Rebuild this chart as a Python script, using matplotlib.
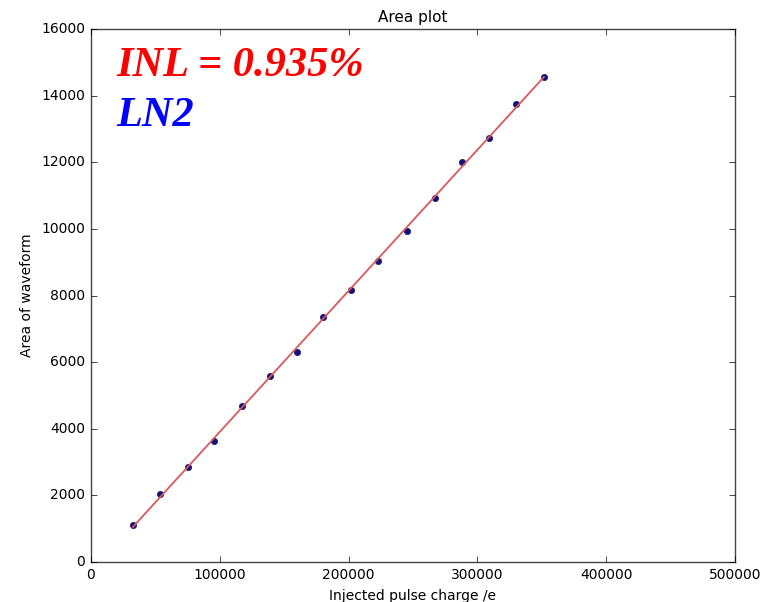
import numpy as np
import matplotlib
matplotlib.use("Agg")
import matplotlib.pyplot as plt

plt.style.use("classic")

# Injected charge (electrons) and integrated waveform area
charge = [32600, 53600, 75300, 95500, 117200, 139000, 159900, 180100,
          201900, 222800, 245300, 267100, 288000, 309000, 330000, 351700]
area = [1110, 2040, 2850, 3630, 4680, 5580, 6300, 7350,
        8170, 9040, 9940, 10930, 12010, 12730, 13750, 14560]

inl_label = "INL = 0.935%"
medium_label = "LN2"

fig = plt.figure(figsize=(7.64, 6.02), dpi=100, facecolor="white")
ax = fig.add_axes([0.119, 0.0664, 0.843, 0.8854])

x = np.array(charge, dtype=float)
y = np.array(area, dtype=float)
slope, intercept = np.polyfit(x, y, 1)
xf = np.array([x.min(), x.max()])

ax.plot(x, y, "o", color="#12127a", markeredgecolor="#12127a",
        markersize=4.5, zorder=2)
ax.plot(xf, slope * xf + intercept, "-", color="#d9595a", lw=1.3, zorder=3)

ax.set_xlim(0, 500000)
ax.set_ylim(0, 16000)
ax.set_xticks(np.arange(0, 500001, 100000))
ax.set_yticks(np.arange(0, 16001, 2000))
ax.tick_params(labelsize=10, direction="in")
for s in ax.spines.values():
    s.set_color("#444444")

ax.set_title("Area plot", fontsize=11)
ax.set_xlabel("Injected pulse charge /e", fontsize=10)
ax.set_ylabel("Area of waveform", fontsize=10)

ax.text(0.04, 0.912, inl_label, transform=ax.transAxes, color="red",
        fontsize=30.5, fontweight="bold", fontstyle="italic",
        family="Liberation Serif", va="baseline")
ax.text(0.04, 0.818, medium_label, transform=ax.transAxes, color="blue",
        fontsize=30.5, fontweight="bold", fontstyle="italic",
        family="Liberation Serif", va="baseline")

fig.savefig("out.png", dpi=100, facecolor="white")
